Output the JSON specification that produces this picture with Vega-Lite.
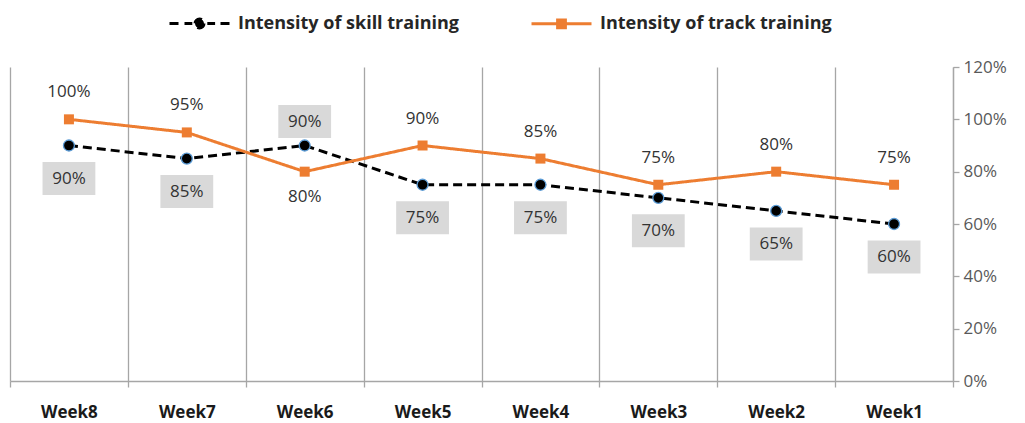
{
  "$schema": "https://vega.github.io/schema/vega-lite/v6.json",
  "width": 943,
  "height": 314,
  "autosize": {"type": "none"},
  "padding": {"left": 10, "top": 67, "right": 72, "bottom": 42},
  "background": "white",
  "config": {
    "view": {"stroke": null},
    "font": "Open Sans"
  },
  "data": {
    "values": [
      {"week": "Week8", "series": "Intensity of skill training", "value": 0.90},
      {"week": "Week7", "series": "Intensity of skill training", "value": 0.85},
      {"week": "Week6", "series": "Intensity of skill training", "value": 0.90},
      {"week": "Week5", "series": "Intensity of skill training", "value": 0.75},
      {"week": "Week4", "series": "Intensity of skill training", "value": 0.75},
      {"week": "Week3", "series": "Intensity of skill training", "value": 0.70},
      {"week": "Week2", "series": "Intensity of skill training", "value": 0.65},
      {"week": "Week1", "series": "Intensity of skill training", "value": 0.60},
      {"week": "Week8", "series": "Intensity of track training", "value": 1.00},
      {"week": "Week7", "series": "Intensity of track training", "value": 0.95},
      {"week": "Week6", "series": "Intensity of track training", "value": 0.80},
      {"week": "Week5", "series": "Intensity of track training", "value": 0.90},
      {"week": "Week4", "series": "Intensity of track training", "value": 0.85},
      {"week": "Week3", "series": "Intensity of track training", "value": 0.75},
      {"week": "Week2", "series": "Intensity of track training", "value": 0.80},
      {"week": "Week1", "series": "Intensity of track training", "value": 0.75}
    ]
  },
  "encoding": {
    "x": {
      "field": "week",
      "type": "nominal",
      "sort": ["Week8", "Week7", "Week6", "Week5", "Week4", "Week3", "Week2", "Week1"],
      "scale": {"type": "band", "paddingInner": 0, "paddingOuter": 0},
      "axis": {
        "title": null,
        "tickBand": "extent",
        "grid": true,
        "gridColor": "#a6a6a6",
        "gridWidth": 1.3,
        "domainColor": "#a6a6a6",
        "domainWidth": 1.3,
        "tickColor": "#a6a6a6",
        "tickWidth": 1.3,
        "tickSize": 6,
        "labelAngle": 0,
        "labelFont": "Open Sans",
        "labelFontSize": 17,
        "labelFontWeight": "bold",
        "labelColor": "#1a1a1a",
        "labelPadding": 17
      }
    },
    "y": {
      "field": "value",
      "type": "quantitative",
      "scale": {"domain": [0, 1.2], "nice": false, "zero": true},
      "axis": {
        "orient": "right",
        "title": null,
        "grid": false,
        "values": [0, 0.2, 0.4, 0.6, 0.8, 1.0, 1.2],
        "format": ".0%",
        "domainColor": "#a6a6a6",
        "domainWidth": 1.3,
        "tickColor": "#a6a6a6",
        "tickWidth": 1.3,
        "tickSize": 6,
        "labelFont": "Open Sans",
        "labelFontSize": 17,
        "labelColor": "#595959",
        "labelPadding": 4
      }
    }
  },
  "layer": [
    {
      "mark": {"type": "line", "strokeWidth": 3},
      "encoding": {
        "color": {
          "field": "series",
          "type": "nominal",
          "scale": {
            "domain": ["Intensity of skill training", "Intensity of track training"],
            "range": ["#000000", "#ED7D31"]
          },
          "legend": {
            "orient": "none",
            "legendX": 158,
            "legendY": -75,
            "direction": "horizontal",
            "title": null,
            "padding": 0,
            "symbolSize": 3600,
            "symbolStrokeWidth": 3,
            "labelFont": "Open Sans",
            "labelFontSize": 18,
            "labelFontWeight": "bold",
            "labelColor": "#262626",
            "labelOffset": 7,
            "labelLimit": 400,
            "columnPadding": 66,
            "encode": {
              "symbols": {
                "update": {
                  "shape": {"signal": "datum.value === 'Intensity of skill training' ? 'M-1,0H-0.68M-0.5,0H-0.24M0.26,0H0.52M0.7,0H1M0.15,0A0.15,0.15,0,1,1,-0.15,0A0.15,0.15,0,1,1,0.15,0Z' : 'M-1,0H1M-0.13,-0.13H0.13V0.13H-0.13Z'"},
                  "fill": {"signal": "datum.value === 'Intensity of skill training' ? '#000000' : '#ED7D31'"},
                  "stroke": {"signal": "datum.value === 'Intensity of skill training' ? '#000000' : '#ED7D31'"},
                  "strokeDash": {"value": []},
                  "strokeWidth": {"value": 3},
                  "opacity": {"value": 1},
                  "fillOpacity": {"value": 1}
                }
              }
            }
          }
        },
        "strokeDash": {
          "field": "series",
          "type": "nominal",
          "scale": {
            "domain": ["Intensity of skill training", "Intensity of track training"],
            "range": [[9, 5], [1, 0]]
          },
          "legend": null
        }
      }
    },
    {
      "transform": [{"filter": "datum.series === 'Intensity of skill training'"}],
      "mark": {"type": "point", "filled": true, "fill": "#000000", "stroke": "#5B9BD5", "strokeWidth": 1.3, "size": 120, "opacity": 1, "shape": "circle"},
      "encoding": {}
    },
    {
      "transform": [{"filter": "datum.series === 'Intensity of track training'"}],
      "mark": {"type": "point", "filled": true, "fill": "#ED7D31", "size": 100, "opacity": 1, "shape": "square"},
      "encoding": {}
    },
    {
      "transform": [{"filter": "datum.series === 'Intensity of skill training' && datum.week !== 'Week6'"}],
      "mark": {"type": "point", "filled": true, "fill": "#D9D9D9", "opacity": 1, "size": 1089, "shape": "M-1.6,-1H1.6V1H-1.6Z", "yOffset": 33},
      "encoding": {}
    },
    {
      "transform": [{"filter": "datum.series === 'Intensity of skill training' && datum.week === 'Week6'"}],
      "mark": {"type": "point", "filled": true, "fill": "#D9D9D9", "opacity": 1, "size": 1089, "shape": "M-1.6,-1H1.6V1H-1.6Z", "yOffset": -24},
      "encoding": {}
    },
    {
      "transform": [{"filter": "datum.series === 'Intensity of skill training' && datum.week !== 'Week6'"}],
      "mark": {"type": "text", "font": "Open Sans", "fontSize": 17, "color": "#333333", "align": "center", "baseline": "middle", "yOffset": 33},
      "encoding": {"text": {"field": "value", "type": "quantitative", "format": ".0%"}}
    },
    {
      "transform": [{"filter": "datum.series === 'Intensity of skill training' && datum.week === 'Week6'"}],
      "mark": {"type": "text", "font": "Open Sans", "fontSize": 17, "color": "#333333", "align": "center", "baseline": "middle", "yOffset": -24},
      "encoding": {"text": {"field": "value", "type": "quantitative", "format": ".0%"}}
    },
    {
      "transform": [{"filter": "datum.series === 'Intensity of track training' && datum.week !== 'Week6'"}],
      "mark": {"type": "text", "font": "Open Sans", "fontSize": 17, "color": "#333333", "align": "center", "baseline": "middle", "yOffset": -27},
      "encoding": {"text": {"field": "value", "type": "quantitative", "format": ".0%"}}
    },
    {
      "transform": [{"filter": "datum.series === 'Intensity of track training' && datum.week === 'Week6'"}],
      "mark": {"type": "text", "font": "Open Sans", "fontSize": 17, "color": "#333333", "align": "center", "baseline": "middle", "yOffset": 25},
      "encoding": {"text": {"field": "value", "type": "quantitative", "format": ".0%"}}
    }
  ]
}
